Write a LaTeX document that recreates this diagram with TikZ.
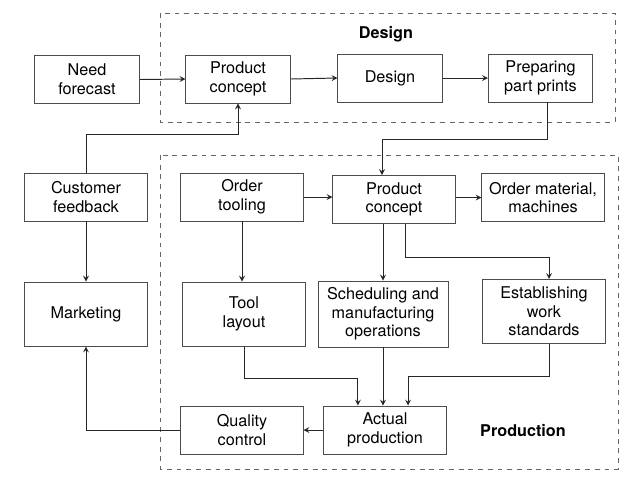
\documentclass[tikz,border=0pt]{standalone}
\usepackage{fontspec}
\setmainfont{TeX Gyre Heros}
\usetikzlibrary{arrows, positioning, calc}
\tikzstyle{arrow} = [thick,->,>=stealth]

\begin{document}
\begin{tikzpicture}[
    x=0.617pt, y=-0.617pt,
    box/.style={rectangle, draw=black!70, line width=0.6pt, align=center,
                minimum width=64.2pt, minimum height=29.6pt, inner sep=2pt,
                font=\fontsize{10}{11.5}\selectfont},
    wbox/.style={box, minimum width=75.3pt},
    tall/.style={minimum height=39.5pt},
    grp/.style={draw=black!60, dashed, line width=0.5pt},
    lbl/.style={font=\fontsize{10}{12}\selectfont\bfseries},
    arr/.style={->, line width=0.6pt, >=stealth, color=black!85}
]
\useasboundingbox (0,0) rectangle (632,478);

% Groups
\draw[grp] (160,13) rectangle (615,122);
\draw[grp] (160,155) rectangle (618,469);
\node[lbl] (dlbl) at (386,34) {Design};
\node[lbl] (plbl) at (523,431) {Production};

% Design row
\node[box] (nf)  at (87,79.5)  {Need\\forecast};
\node[box] (pc1) at (238,79)   {Product\\concept};
\node[box] (des) at (390,78)   {Design};
\node[box] (ppp) at (540.5,78) {Preparing\\part prints};

% Production, first row
\node[wbox] (cf)  at (86,197)    {Customer\\feedback};
\node[wbox] (ot)  at (242,197)   {Order\\tooling};
\node[wbox] (pc2) at (394,199.5) {Product\\concept};
\node[wbox] (om)  at (543,197.5) {Order material,\\machines};

% Production, second row
\node[wbox, tall] (mk)  at (86,314)    {Marketing};
\node[wbox, tall] (tl)  at (244,314)   {Tool\\layout};
\node[box, minimum width=80.2pt, minimum height=40.7pt] (sch) at (383,314)
    {Scheduling and\\manufacturing\\operations};
\node[wbox, tall] (es)  at (544,311.5) {Establishing\\work\\standards};

% Production, last row
\node[wbox] (qc) at (242,430) {Quality\\control};
\node[wbox] (ap) at (385,430) {Actual\\production};

% Arrows
\draw[arr] (nf.east) -- (pc1.west);
\draw[arr] (pc1.east) -- (des.west);
\draw[arr] (des.east) -- (ppp.west);
\draw[arr] ([xshift=4.2pt]ppp.south) -- ++(0,37) -| ([xshift=-7.4pt]pc2.north);
\draw[arr] (cf.north) -- ++(0,-38) -| (pc1.south);
\draw[arr] (cf.south) -- (mk.north);
\draw[arr] (ot.east) -- (ot.east -| pc2.west);
\draw[arr] (pc2.east |- om.west) -- (om.west);
\draw[arr] (ot.south) -- (ot.south |- tl.north);
\draw[arr] (sch.north |- pc2.south) -- (sch.north);
\draw[arr] ([xshift=7pt]pc2.south) -- ++(0,34) -| ([xshift=3.1pt]es.north);
\draw[arr] (tl.south) -- ++(0,32) -| ([xshift=-16.7pt]ap.north);
\draw[arr] (sch.south) -- (sch.south |- ap.north);
\draw[arr] ([xshift=3.1pt]es.south) -- ++(0,32) -| ([xshift=14.2pt]ap.north);
\draw[arr] (ap.west) -- (qc.east);
\draw[arr] (qc.west) -| (mk.south);
\end{tikzpicture}
\end{document}
